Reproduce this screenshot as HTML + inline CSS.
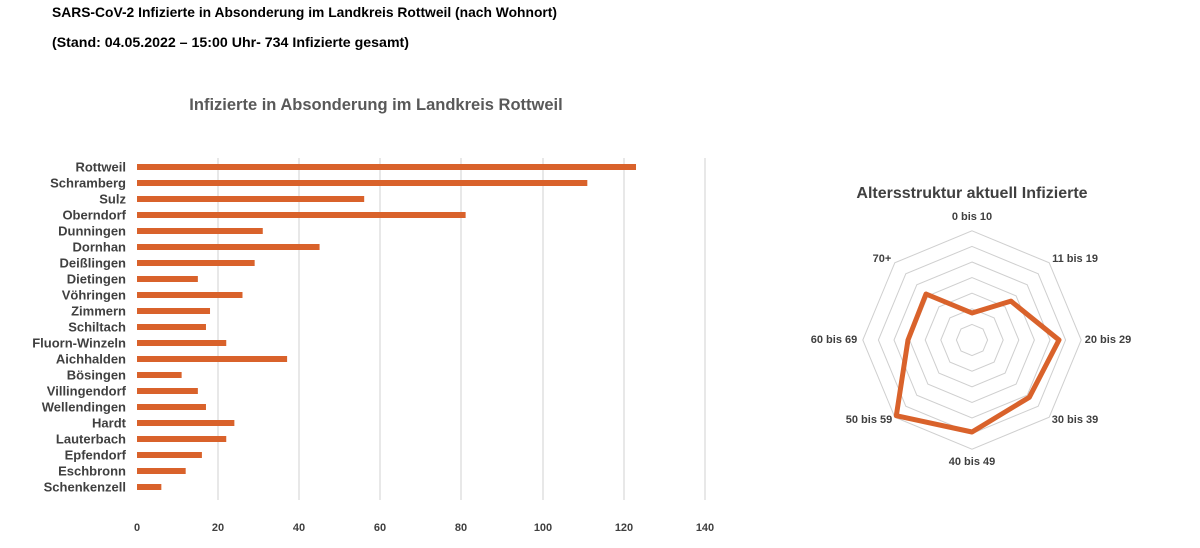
<!DOCTYPE html>
<html><head><meta charset="utf-8"><style>
body{margin:0;width:1200px;height:543px;background:#fff;overflow:hidden;font-family:"Liberation Sans",sans-serif}
</style></head><body>
<svg width="1200" height="543" xmlns="http://www.w3.org/2000/svg" font-family="Liberation Sans, sans-serif">
<text x="52" y="17" font-size="14" font-weight="bold" fill="#000" textLength="505" lengthAdjust="spacingAndGlyphs">SARS-CoV-2 Infizierte in Absonderung im Landkreis Rottweil (nach Wohnort)</text>
<text x="52" y="47" font-size="14" font-weight="bold" fill="#000" textLength="357" lengthAdjust="spacingAndGlyphs">(Stand: 04.05.2022 – 15:00 Uhr- 734 Infizierte gesamt)</text>
<text x="376" y="110" font-size="16.5" font-weight="bold" fill="#595959" text-anchor="middle">Infizierte in Absonderung im Landkreis Rottweil</text>
<g stroke="#d0d0d0" stroke-width="1">
<line x1="218" y1="158" x2="218" y2="500"/><line x1="299" y1="158" x2="299" y2="500"/><line x1="380" y1="158" x2="380" y2="500"/><line x1="461" y1="158" x2="461" y2="500"/><line x1="543" y1="158" x2="543" y2="500"/><line x1="624" y1="158" x2="624" y2="500"/><line x1="705" y1="158" x2="705" y2="500"/>
</g>
<g font-size="11" font-weight="bold" fill="#404040" text-anchor="middle">
<text x="137" y="531">0</text><text x="218" y="531">20</text><text x="299" y="531">40</text><text x="380" y="531">60</text><text x="461" y="531">80</text><text x="543" y="531">100</text><text x="624" y="531">120</text><text x="705" y="531">140</text>
</g>
<g id="bars" font-size="13" font-weight="bold" fill="#404040" text-anchor="end"></g>
<g id="radar"></g>
<text x="972" y="198" font-size="16" font-weight="bold" fill="#404040" text-anchor="middle">Altersstruktur aktuell Infizierte</text>
<g font-size="11" font-weight="bold" fill="#404040" text-anchor="middle">
<text x="972" y="220">0 bis 10</text>
<text x="1075" y="262">11 bis 19</text>
<text x="1108" y="343">20 bis 29</text>
<text x="1075" y="423">30 bis 39</text>
<text x="972" y="465">40 bis 49</text>
<text x="869" y="423">50 bis 59</text>
<text x="834" y="343">60 bis 69</text>
<text x="882" y="262">70+</text>
</g>
</svg>
<script>
const names=["Rottweil","Schramberg","Sulz","Oberndorf","Dunningen","Dornhan","Deißlingen","Dietingen","Vöhringen","Zimmern","Schiltach","Fluorn-Winzeln","Aichhalden","Bösingen","Villingendorf","Wellendingen","Hardt","Lauterbach","Epfendorf","Eschbronn","Schenkenzell"];
const vals=[123,111,56,81,31,45,29,15,26,18,17,22,37,11,15,17,24,22,16,12,6];
const NS="http://www.w3.org/2000/svg";
const g=document.getElementById("bars");
names.forEach((n,i)=>{const y=167+i*16;
const r=document.createElementNS(NS,"rect");r.setAttribute("x",137);r.setAttribute("y",y-3);r.setAttribute("width",vals[i]*4.057);r.setAttribute("height",6);r.setAttribute("fill","#d9622b");g.appendChild(r);
const t=document.createElementNS(NS,"text");t.setAttribute("x",126);t.setAttribute("y",y+4.5);t.textContent=n;g.appendChild(t);});
const cx=972,cy=340,rg=document.getElementById("radar");
for(let k=1;k<=7;k++){const R=k*15.6;let p=[];for(let j=0;j<8;j++){const a=j*Math.PI/4;p.push((cx+R*Math.sin(a)).toFixed(1)+","+(cy-R*Math.cos(a)).toFixed(1));}
const pg=document.createElementNS(NS,"polygon");pg.setAttribute("points",p.join(" "));pg.setAttribute("fill","none");pg.setAttribute("stroke","#cfcfcf");pg.setAttribute("stroke-width","1");rg.appendChild(pg);}
const rv=[27,55,87,81,92,107,64,65];let p=[];
rv.forEach((R,j)=>{const a=j*Math.PI/4;p.push((cx+R*Math.sin(a)).toFixed(1)+","+(cy-R*Math.cos(a)).toFixed(1));});
const pg=document.createElementNS(NS,"polygon");pg.setAttribute("points",p.join(" "));pg.setAttribute("fill","none");pg.setAttribute("stroke","#d9622b");pg.setAttribute("stroke-width","5");pg.setAttribute("stroke-linejoin","round");rg.appendChild(pg);
</script>
</body></html>
